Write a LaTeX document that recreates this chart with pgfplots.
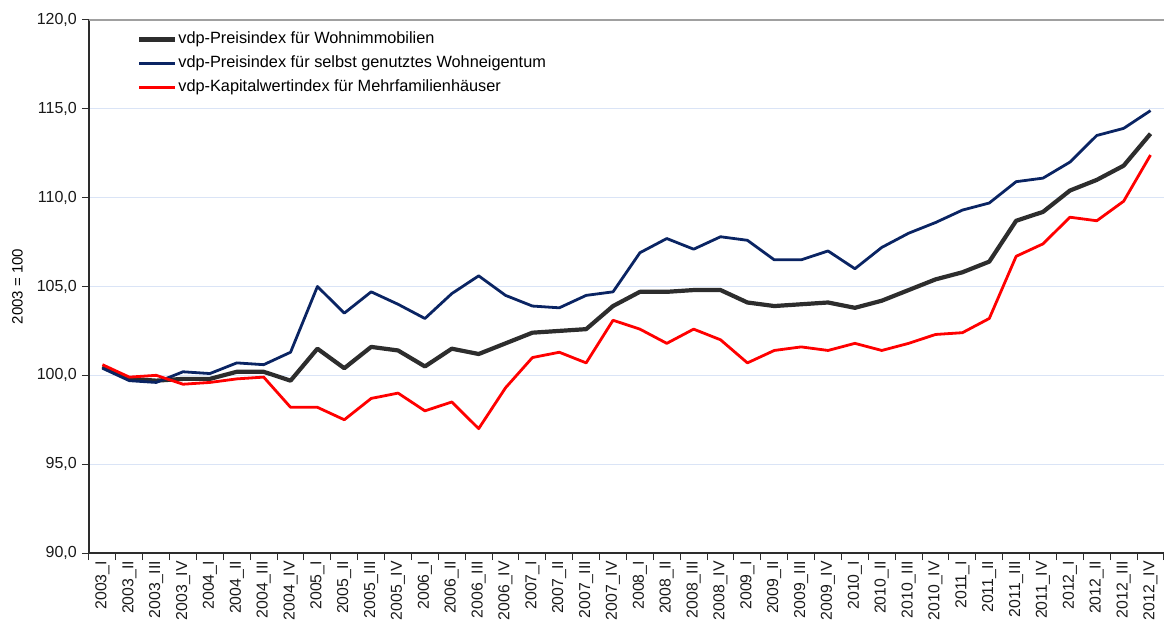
\documentclass[border=0pt]{standalone}
\usepackage{pgfplots}
\pgfplotsset{compat=1.18}
\usepackage{pgfplotstable}
\usepackage{fontspec}
\setmainfont{Liberation Sans}
\definecolor{serblack}{RGB}{45,45,45}
\definecolor{serblue}{RGB}{10,36,99}
\definecolor{serred}{RGB}{255,0,0}
\definecolor{gridblue}{RGB}{218,228,246}
\definecolor{topgray}{RGB}{160,160,160}

\pgfplotstableread{
x y
0 100.5
1 99.8
2 99.7
3 99.8
4 99.8
5 100.2
6 100.2
7 99.7
8 101.5
9 100.4
10 101.6
11 101.4
12 100.5
13 101.5
14 101.2
15 101.8
16 102.4
17 102.5
18 102.6
19 103.9
20 104.7
21 104.7
22 104.8
23 104.8
24 104.1
25 103.9
26 104.0
27 104.1
28 103.8
29 104.2
30 104.8
31 105.4
32 105.8
33 106.4
34 108.7
35 109.2
36 110.4
37 111.0
38 111.8
39 113.6
}\wohn

\pgfplotstableread{
x y
0 100.4
1 99.7
2 99.6
3 100.2
4 100.1
5 100.7
6 100.6
7 101.3
8 105.0
9 103.5
10 104.7
11 104.0
12 103.2
13 104.6
14 105.6
15 104.5
16 103.9
17 103.8
18 104.5
19 104.7
20 106.9
21 107.7
22 107.1
23 107.8
24 107.6
25 106.5
26 106.5
27 107.0
28 106.0
29 107.2
30 108.0
31 108.6
32 109.3
33 109.7
34 110.9
35 111.1
36 112.0
37 113.5
38 113.9
39 114.9
}\selbst

\pgfplotstableread{
x y
0 100.6
1 99.9
2 100.0
3 99.5
4 99.6
5 99.8
6 99.9
7 98.2
8 98.2
9 97.5
10 98.7
11 99.0
12 98.0
13 98.5
14 97.0
15 99.3
16 101.0
17 101.3
18 100.7
19 103.1
20 102.6
21 101.8
22 102.6
23 102.0
24 100.7
25 101.4
26 101.6
27 101.4
28 101.8
29 101.4
30 101.8
31 102.3
32 102.4
33 103.2
34 106.7
35 107.4
36 108.9
37 108.7
38 109.8
39 112.4
}\mfh

\begin{document}
\begin{tikzpicture}
\useasboundingbox (-89pt,-71pt) rectangle (1075pt,553pt);
\begin{axis}[
  scale only axis,
  width=1075pt, height=533pt,
  at={(0pt,0pt)}, anchor=south west,
  xmin=-0.5, xmax=39.5,
  ymin=90, ymax=120,
  axis lines*=left,
  axis line style={serblack, line width=1.2pt},
  tick align=outside,
  tick style={serblack, line width=1pt},
  xtick={0,...,39},
  major x tick style={draw=none},
  minor xtick={-0.5,0.5,...,39.5},
  minor tick length=7pt,
  major tick length=7pt,
  xticklabels={2003\_I,2003\_II,2003\_III,2003\_IV,2004\_I,2004\_II,2004\_III,2004\_IV,2005\_I,2005\_II,2005\_III,2005\_IV,2006\_I,2006\_II,2006\_III,2006\_IV,2007\_I,2007\_II,2007\_III,2007\_IV,2008\_I,2008\_II,2008\_III,2008\_IV,2009\_I,2009\_II,2009\_III,2009\_IV,2010\_I,2010\_II,2010\_III,2010\_IV,2011\_I,2011\_II,2011\_III,2011\_IV,2012\_I,2012\_II,2012\_III,2012\_IV},
  xticklabel style={rotate=90, anchor=east, inner sep=0pt, xshift=-1pt, font=\fontsize{15.8}{17}\selectfont, text=black!90},
  ytick={90,95,...,120},
  yticklabel style={anchor=east, inner sep=0pt, xshift=-5pt, font=\fontsize{16}{18}\selectfont, text=black!90,
    /pgf/number format/.cd, fixed, fixed zerofill, precision=1, use comma, assume math mode=true},
  ymajorgrids,
  grid style={gridblue, line width=1pt},
  extra y ticks={120},
  extra y tick labels={},
  extra y tick style={grid style={topgray, line width=1.2pt}, major tick length=0pt},
  ylabel={2003 = 100},
  every axis y label/.style={at={(axis description cs:0,0.5)}, xshift=-71.5pt, rotate=90, anchor=center, font=\fontsize{15}{17}\selectfont},
  legend style={at={(axis description cs:0,1)}, xshift=48pt, yshift=-10.5pt, anchor=north west,
    draw=none, fill=none, inner sep=0pt, row sep=6.5pt,
    font=\fontsize{16.3}{18}\selectfont,
    nodes={inner sep=1pt, text height=12pt, text depth=3.5pt}},
  legend cell align=left,
  legend image code/.code={\draw[#1] (0pt,0pt) -- (36pt,0pt);},
]
\addplot[serblack, line width=4.2pt, line join=round] table[x=x,y=y] {\wohn};
\addlegendentry{vdp-Preisindex für Wohnimmobilien}
\addplot[serblue, line width=2.8pt, line join=round] table[x=x,y=y] {\selbst};
\addlegendentry{vdp-Preisindex für selbst genutztes Wohneigentum}
\addplot[serred, line width=2.8pt, line join=round] table[x=x,y=y] {\mfh};
\addlegendentry{vdp-Kapitalwertindex für Mehrfamilienhäuser}
\end{axis}
\end{tikzpicture}
\end{document}
